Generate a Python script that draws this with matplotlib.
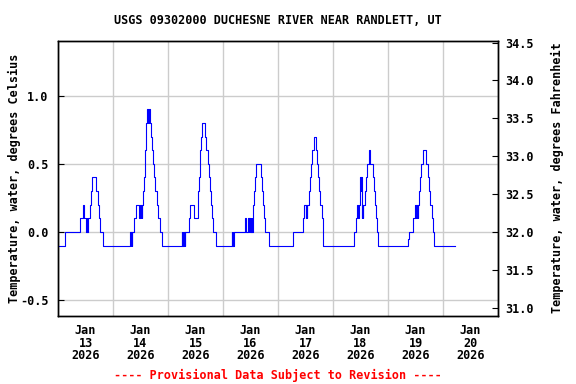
import pandas as pd
import matplotlib
matplotlib.use('Agg')
import matplotlib.pyplot as plt
import matplotlib.dates as mdates
from matplotlib.ticker import FixedLocator

title = 'USGS 09302000 DUCHESNE RIVER NEAR RANDLETT, UT'
footer = '---- Provisional Data Subject to Revision ----'
start = pd.Timestamp('2026-01-13 00:00')
last_obs = pd.Timestamp('2026-01-20 05:15')
xmax = pd.Timestamp('2026-01-21 00:00')

# change points per day: hour of day, water temperature (deg C) from then on
jan13_h = [0.0, 3.25, 9.75, 10.75, 11.25, 12.25, 12.5, 12.75, 13.0, 14.0, 14.5, 15.0,
           16.75, 17.25, 17.75, 18.25, 19.5]
jan13_t = [-0.1, 0.0, 0.1, 0.2, 0.1, 0.0, 0.1, 0.0, 0.1, 0.2, 0.3, 0.4,
           0.3, 0.2, 0.1, 0.0, -0.1]
jan14_h = [7.5, 7.75, 8.0, 8.25, 8.5, 9.25, 10.0, 11.25, 11.75, 12.0, 12.25, 12.5, 12.75,
           13.25, 13.5, 13.75, 14.0, 14.25, 14.5, 14.75, 15.25, 15.5, 16.0,
           16.5, 17.0, 17.5, 18.0, 18.5, 19.0, 19.5, 20.5, 21.25]
jan14_t = [0.0, -0.1, 0.0, -0.1, 0.0, 0.1, 0.2, 0.1, 0.2, 0.1, 0.2, 0.1, 0.2,
           0.3, 0.4, 0.5, 0.6, 0.7, 0.8, 0.9, 0.8, 0.9, 0.8,
           0.7, 0.6, 0.5, 0.4, 0.3, 0.2, 0.1, 0.0, -0.1]
jan15_h = [6.0, 6.25, 6.5, 6.75, 7.0, 7.25, 7.5, 9.25, 9.75, 11.25, 13.0, 13.25, 13.5,
           13.75, 14.0, 14.5, 15.0, 16.25, 16.75, 17.25, 17.75, 18.25, 18.75, 19.25,
           19.75, 20.75]
jan15_t = [0.0, -0.1, 0.0, -0.1, 0.0, -0.1, 0.0, 0.1, 0.2, 0.1, 0.2, 0.3, 0.4,
           0.5, 0.6, 0.7, 0.8, 0.7, 0.6, 0.5, 0.4, 0.3, 0.2, 0.1,
           0.0, -0.1]
jan16_h = [3.75, 4.0, 4.25, 4.5, 4.75, 9.75, 10.0, 11.0, 11.25, 11.5, 11.75, 12.0, 12.25,
           12.5, 12.75, 13.0, 13.25, 13.5, 14.0, 14.5, 16.5, 17.0, 17.5, 18.0, 18.5, 20.25]
jan16_t = [0.0, -0.1, 0.0, -0.1, 0.0, 0.1, 0.0, 0.1, 0.0, 0.1, 0.0, 0.1, 0.0,
           0.1, 0.0, 0.1, 0.2, 0.3, 0.4, 0.5, 0.4, 0.3, 0.2, 0.1, 0.0, -0.1]
jan17_h = [6.5, 11.0, 11.5, 12.0, 12.25, 12.5, 12.75, 13.5, 13.75, 14.25, 14.75, 15.5,
           16.5, 17.0, 17.5, 18.0, 18.5, 19.0, 19.5, 19.75]
jan17_t = [0.0, 0.1, 0.2, 0.1, 0.2, 0.1, 0.2, 0.3, 0.4, 0.5, 0.6, 0.7,
           0.6, 0.5, 0.4, 0.3, 0.2, 0.1, 0.0, -0.1]
jan18_h = [9.0, 10.0, 10.5, 11.0, 11.25, 11.75, 12.0, 12.25, 12.5, 12.75, 13.0, 13.25,
           13.75, 14.25, 14.75, 15.5, 16.25, 17.25, 17.75, 18.25, 18.75, 19.25, 19.75]
jan18_t = [0.0, 0.1, 0.2, 0.1, 0.2, 0.4, 0.3, 0.4, 0.1, 0.2, 0.1, 0.2,
           0.3, 0.4, 0.5, 0.6, 0.5, 0.4, 0.3, 0.2, 0.1, 0.0, -0.1]
jan19_h = [8.75, 9.25, 11.0, 11.75, 12.0, 12.25, 12.5, 12.75, 13.0, 13.25, 13.5, 14.0,
           14.5, 15.25, 16.75, 17.5, 18.0, 18.5, 19.0, 19.5, 20.0]
jan19_t = [-0.05, 0.0, 0.1, 0.2, 0.1, 0.2, 0.1, 0.2, 0.1, 0.2, 0.3, 0.4,
           0.5, 0.6, 0.5, 0.4, 0.3, 0.2, 0.1, 0.0, -0.1]

days_h = [jan13_h, jan14_h, jan15_h, jan16_h, jan17_h, jan18_h, jan19_h]
days_t = [jan13_t, jan14_t, jan15_t, jan16_t, jan17_t, jan18_t, jan19_t]

c_ticks = [-0.5, 0.0, 0.5, 1.0]
f_ticks = [31.0, 31.5, 32.0, 32.5, 33.0, 33.5, 34.0, 34.5]
c_lim = (-0.615, 1.40)

times = []
temps = []
for i, (hh, tt) in enumerate(zip(days_h, days_t)):
    for h, t in zip(hh, tt):
        times.append(start + pd.Timedelta(days=i, hours=h))
        temps.append(t)
times.append(last_obs)
temps.append(temps[-1])

font = {'family': 'DejaVu Sans Mono', 'weight': 'bold', 'size': 8.5}

fig = plt.figure(figsize=(5.76, 3.84), dpi=100)
ax = fig.add_axes([58/576., 1 - 316/384., 440/576., 275/384.])
ax.step(times, temps, where='post', color='#0000ff', linewidth=0.8)

ax.set_xlim(start, xmax)
ax.set_ylim(*c_lim)

# gridlines at midnight, day labels at noon
ax.xaxis.set_major_locator(mdates.DayLocator())
ax.xaxis.set_major_formatter(plt.NullFormatter())
ax.xaxis.set_minor_locator(mdates.HourLocator(byhour=[12]))
ax.xaxis.set_minor_formatter(mdates.DateFormatter('%b\n%d\n%Y'))
ax.tick_params(axis='x', which='both', length=0, pad=6)
ax.set_yticks(c_ticks)
ax.set_yticklabels(['%.1f' % v for v in c_ticks])
ax.tick_params(axis='y', direction='in', length=4, pad=7)
ax.grid(True, which='major', color='#cccccc', linewidth=1)
ax.set_axisbelow(True)
for lab in ax.get_xticklabels(minor=True) + ax.get_yticklabels():
    lab.set_fontproperties(matplotlib.font_manager.FontProperties(**font))
for lab in ax.get_xticklabels(minor=True):
    lab.set_linespacing(0.95)

ax2 = ax.twinx()
ax2.set_ylim(c_lim[0] * 1.8 + 32, c_lim[1] * 1.8 + 32)
ax2.yaxis.set_major_locator(FixedLocator(f_ticks))
ax2.set_yticklabels(['%.1f' % v for v in f_ticks])
ax2.tick_params(axis='y', direction='in', length=4, pad=5)
for lab in ax2.get_yticklabels():
    lab.set_fontproperties(matplotlib.font_manager.FontProperties(**font))

for a in (ax, ax2):
    for s in a.spines.values():
        s.set_color('black')
        s.set_linewidth(1)

fig.text(278/576., 1 - 20/384., title, ha='center', va='center', **font)
fig.text(14/576., 1 - 178/384., 'Temperature, water, degrees Celsius',
         rotation=90, ha='center', va='center', **font)
fig.text(557/576., 1 - 178/384., 'Temperature, water, degrees Fahrenheit',
         rotation=90, ha='center', va='center', **font)
fig.text(278/576., 1 - 375/384., footer, ha='center', va='center',
         color='red', **font)

fig.savefig('out.png', dpi=100)
